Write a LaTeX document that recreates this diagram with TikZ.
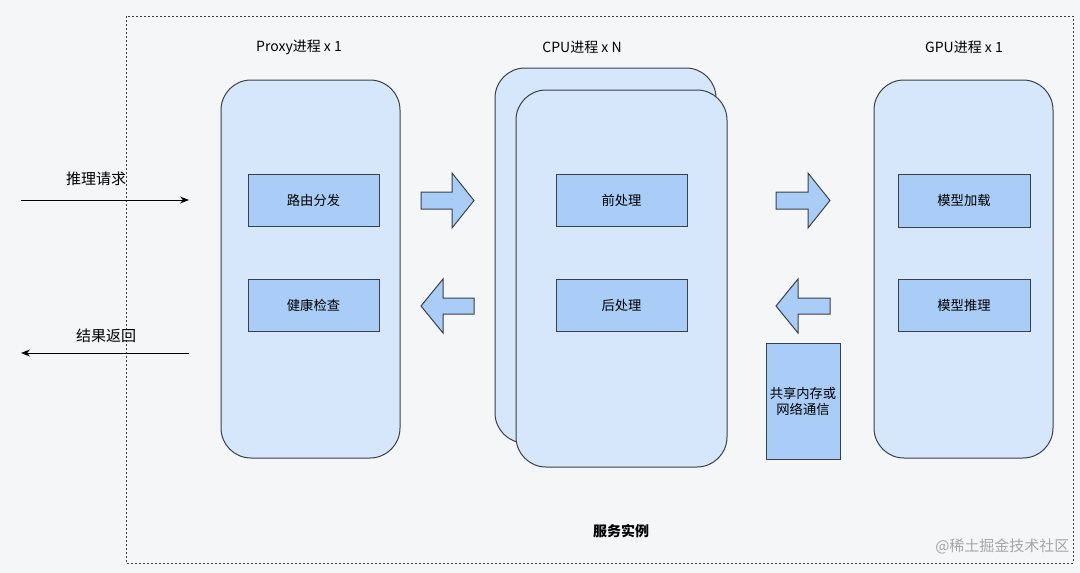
\documentclass[tikz,border=0pt]{standalone}
\usepackage{fontspec}
\setmainfont{Noto Sans CJK SC}
\usetikzlibrary{arrows.meta}
\definecolor{bg}{HTML}{F5F6F8}
\definecolor{outerfill}{HTML}{D6E6FB}
\definecolor{innerfill}{HTML}{A9CDF6}
\definecolor{edge}{HTML}{3A3F48}
\tikzset{
  procbox/.style={draw=edge, line width=1pt, fill=outerfill, rounded corners=30pt},
  taskbox/.style={draw=edge, line width=1pt, fill=innerfill, inner sep=0pt, font=\fontsize{13.3}{16}\selectfont},
  fatarrow/.style={draw=edge, line width=1pt, fill=innerfill, line join=miter},
  title/.style={font=\fontsize{14}{16}\selectfont},
  lbl/.style={font=\fontsize{15}{17}\selectfont},
  flow/.style={-{Stealth[length=9pt,width=7pt]}, line width=1pt, draw=black}
}
\begin{document}
\begin{tikzpicture}[x=1pt,y=-1pt]
\fill[bg] (0,0) rectangle (1080,573);
\useasboundingbox (0,0) rectangle (1080,573);
% service frame
\draw[dash pattern=on 2pt off 2pt, line width=1pt, draw=edge] (126,16) rectangle (1073,563);
% titles
\node[title] (tproxy) at (299,47) {Proxy进程 x 1};
\node[title] (tcpu) at (582,47) {CPU进程 x N};
\node[title] (tgpu) at (964,47) {GPU进程 x 1};
% process boxes
\draw[procbox] (221,80) rectangle (400,458);
\draw[procbox] (495,68) rectangle (716,443);
\draw[procbox] (516,90) rectangle (727,467);
\draw[procbox] (874,80) rectangle (1053,458);
% task boxes
\node[taskbox, minimum width=131pt, minimum height=52pt] (route) at (313.5,200) {路由分发};
\node[taskbox, minimum width=131pt, minimum height=52pt] (health) at (313.5,305.5) {健康检查};
\node[taskbox, minimum width=131pt, minimum height=52pt] (pre) at (621.5,200) {前处理};
\node[taskbox, minimum width=131pt, minimum height=52pt] (post) at (621.5,305.5) {后处理};
\node[taskbox, minimum width=132pt, minimum height=53pt] (load) at (964,200.5) {模型加载};
\node[taskbox, minimum width=132pt, minimum height=52pt] (infer) at (964,305) {模型推理};
\node[taskbox, minimum width=74pt, minimum height=116pt, align=center] (shm) at (803,401) {共享内存或\\网络通信};
% fat arrows
\draw[fatarrow] (421,192) -- (452,192) -- (452,173) -- (474,200.5) -- (452,228) -- (452,209) -- (421,209) -- cycle;
\draw[fatarrow] (474,298) -- (443,298) -- (443,279) -- (421,306) -- (443,333) -- (443,314) -- (474,314) -- cycle;
\draw[fatarrow] (776,192) -- (808,192) -- (808,173) -- (830,200.5) -- (808,228) -- (808,209) -- (776,209) -- cycle;
\draw[fatarrow] (830,298) -- (798,298) -- (798,279) -- (776,306) -- (798,333) -- (798,314) -- (830,314) -- cycle;
% request / response
\coordinate (reqstart) at (21,200);
\coordinate (reqend) at (189,200);
\coordinate (resstart) at (189,353);
\coordinate (resend) at (21,353);
\draw[flow] (reqstart) -- (reqend);
\draw[flow] (resstart) -- (resend);
\node[lbl] (reqlbl) at (96,179) {推理请求};
\node[lbl] (reslbl) at (106,336) {结果返回};
% footer
\node[font=\fontsize{14}{16}\selectfont\bfseries] (svc) at (621,531) {服务实例};
\node[font=\fontsize{15}{17}\selectfont, text=black!35, anchor=east] (wm) at (1073,546) {@稀土掘金技术社区};
\end{tikzpicture}
\end{document}
